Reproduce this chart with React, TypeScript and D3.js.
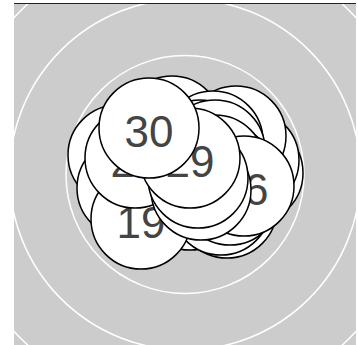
import React from "react";
import * as d3 from "d3";

// Ring values (concentric guide circles)
const ringValues = [1, 2, 3, 4];

// Node labels in drawing order
const nodeLabels = [
  1, 2, 3, 4, 5, 6, 7, 8, 9, 10, 11, 12, 13, 14, 15,
  16, 17, 18, 19, 20, 21, 22, 23, 24, 25, 26, 27, 28, 29, 30,
];
// Node positions (offset from chart centre)
const nodeX = [
  20, -10, -25, 30, 5, 39, 42, 36, 68, 64, 51, -67, -58, -13, 28,
  15, 32, -15, -44, 15, -50, 30, 40, 45, 30, 59, 16, 13, 5, -36,
];
const nodeY = [
  -9.5, -34.5, 15.5, 10.5, 25.5, 31.5, 33.5, 30.5, -1.5, -14.5, -38.5, -19.5, 13.5, -48.5, -33.5,
  -24.5, -9.5, 3.5, 44.5, -9.5, -16.5, -24.5, 0.5, 20.5, -9.5, 11.5, 15.5, 3.5, -16.5, -46.5,
];
const nodeRadius = 50;

const W = 358;
const H = 345;

export default function App() {
  const left = 14;
  const top = 4;
  const pw = 342;
  const ph = 341;
  const cx = left + pw / 2;
  const cy = 174.5;

  const x = d3.scaleLinear().domain([-171, 171]).range([cx - 171, cx + 171]);
  const y = d3.scaleLinear().domain([-171, 171]).range([cy - 171, cy + 171]);
  const rRing = d3.scaleLinear().domain([1, 4]).range([62.5, 232]);

  const nodes = nodeLabels.map((label, i) => ({
    label,
    x: x(nodeX[i]),
    y: y(nodeY[i]),
  }));

  return (
    <svg
      width={W}
      height={H}
      style={{ position: "absolute", left: 0, top: 0, display: "block" }}
    >
      <defs>
        <clipPath id="plotClip">
          <rect x={left} y={top} width={pw} height={ph} />
        </clipPath>
      </defs>
      <rect x={left} y={3} width={pw} height={1} fill="#222" />
      <rect x={left} y={top} width={pw} height={ph} fill="#cccccc" />
      <g clipPath="url(#plotClip)">
        {ringValues.map((v) => (
          <circle
            key={v}
            cx={cx}
            cy={cy}
            r={rRing(v)}
            fill="none"
            stroke="#ffffff"
            strokeWidth={1.5}
          />
        ))}
        {nodes.map((n) => (
          <g key={n.label} transform={`translate(${n.x},${n.y})`}>
            <circle r={nodeRadius} fill="#ffffff" stroke="#000000" strokeWidth={1.5} />
            <text
              textAnchor="middle"
              y={18.5}
              fontSize={44}
              fill="#444444"
              fontFamily="'Liberation Sans', Arial, Helvetica, sans-serif"
            >
              {n.label}
            </text>
          </g>
        ))}
      </g>
    </svg>
  );
}
